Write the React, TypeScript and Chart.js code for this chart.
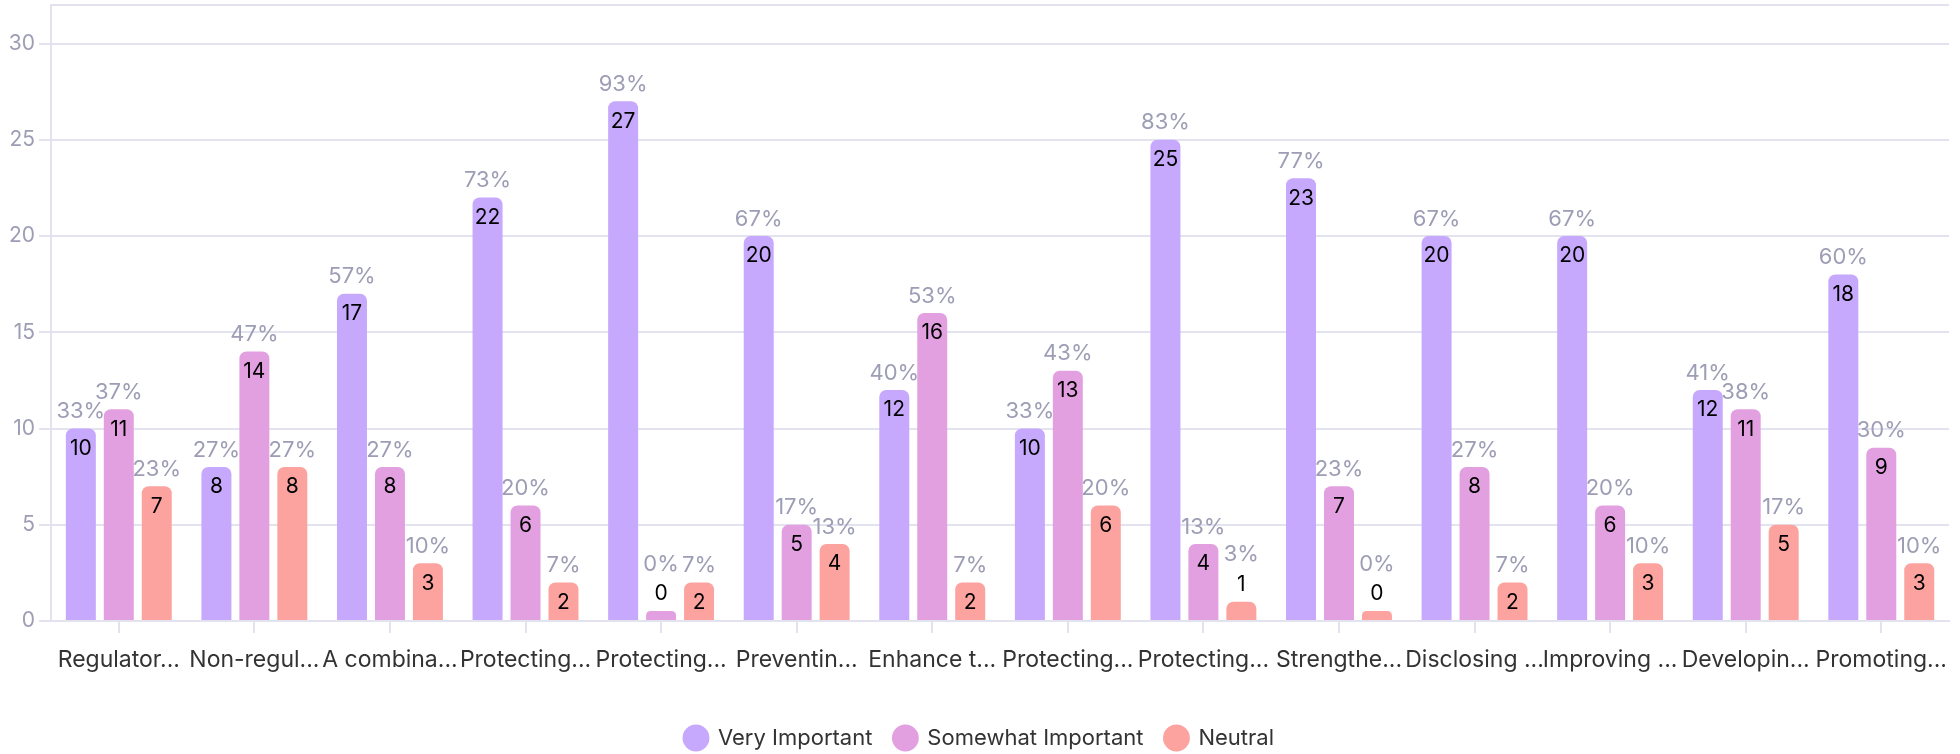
import React, { useEffect, useRef } from "react";
import { Chart, registerables } from "chart.js";

Chart.register(...registerables);

const CATEGORIES = [
  "Regulator...", "Non-regul...", "A combina...", "Protecting...", "Protecting...",
  "Preventin...", "Enhance t...", "Protecting...", "Protecting...", "Strengthe...",
  "Disclosing ...", "Improving ...", "Developin...", "Promoting...",
];

const VERY_IMPORTANT = [10, 8, 17, 22, 27, 20, 12, 10, 25, 23, 20, 20, 12, 18];
const SOMEWHAT_IMPORTANT = [11, 14, 8, 6, 0, 5, 16, 13, 4, 7, 8, 6, 11, 9];
const NEUTRAL = [7, 8, 3, 2, 2, 4, 2, 6, 1, 0, 2, 3, 5, 3];

const PCT_VERY = [33, 27, 57, 73, 93, 67, 40, 33, 83, 77, 67, 67, 41, 60];
const PCT_SOMEWHAT = [37, 47, 27, 20, 0, 17, 53, 43, 13, 23, 27, 20, 38, 30];
const PCT_NEUTRAL = [23, 27, 10, 7, 7, 13, 7, 20, 3, 0, 7, 10, 17, 10];

const Y_TICKS = [0, 5, 10, 15, 20, 25, 30, 32];

const SERIES_NAMES = ["Very Important", "Somewhat Important", "Neutral"];
const COLORS = ["#c6a8fd", "#e3a0e1", "#fca39f"];
const PCTS = [PCT_VERY, PCT_SOMEWHAT, PCT_NEUTRAL];

const GRID = "#e3e3ef";
const FONT = "Inter, 'Noto Sans', sans-serif";

const labelPlugin = {
  id: "valueLabels",
  afterDatasetsDraw(chart: any) {
    const ctx = chart.ctx;
    ctx.save();
    ctx.textAlign = "center";
    ctx.textBaseline = "middle";
    chart.data.datasets.forEach((ds: any, di: number) => {
      const meta = chart.getDatasetMeta(di);
      meta.data.forEach((bar: any, i: number) => {
        const v = ds.data[i];
        const p = PCTS[di][i];
        const top = bar.y;
        const h = bar.base - bar.y;
        let numY: number, pctY: number;
        if (h >= 30) {
          numY = top + 20;
          pctY = top - 17;
        } else {
          numY = top - 17;
          pctY = top - 47;
        }
        ctx.font = `400 21px ${FONT}`;
        ctx.fillStyle = "#000000";
        ctx.fillText(String(v), bar.x, numY);
        ctx.font = `400 22px ${FONT}`;
        ctx.fillStyle = "#9d9db5";
        ctx.fillText(p + "%", bar.x, pctY);
      });
    });
    ctx.restore();
  },
};

export default function App() {
  const ref = useRef<HTMLCanvasElement>(null);
  useEffect(() => {
    if (!ref.current) return;
    const data = [VERY_IMPORTANT, SOMEWHAT_IMPORTANT, NEUTRAL];
    const chart = new Chart(ref.current, {
      type: "bar",
      data: {
        labels: CATEGORIES,
        datasets: data.map((d, i) => ({
          label: SERIES_NAMES[i],
          data: d,
          backgroundColor: COLORS[i],
          borderWidth: 0,
          borderRadius: { topLeft: 7, topRight: 7, bottomLeft: 0, bottomRight: 0 },
          borderSkipped: "bottom",
          categoryPercentage: 0.84,
          barPercentage: 0.79,
          minBarLength: 10,
        })),
      },
      options: {
        responsive: false,
        animation: false,
        layout: { padding: { top: 5, right: 1, bottom: -5, left: 0 } },
        plugins: {
          tooltip: { enabled: false },
          legend: {
            position: "bottom",
            labels: {
              usePointStyle: true,
              pointStyle: "circle",
              boxWidth: 22,
              boxHeight: 19,
              padding: 22,
              color: "#333333",
              font: { family: FONT, size: 22 },
            },
          },
        },
        scales: {
          x: {
            afterFit: (s: any) => {
              s.height = 84;
            },
            grid: {
              display: true,
              drawOnChartArea: false,
              drawTicks: true,
              offset: false,
              tickLength: 12,
              color: GRID,
              lineWidth: 2,
            },
            border: { display: true, color: GRID, width: 2 },
            ticks: {
              color: "#333333",
              font: { family: FONT, size: 23 },
              padding: 13,
              maxRotation: 0,
              autoSkip: false,
            },
          },
          y: {
            min: 0,
            max: 32,
            afterBuildTicks: (s: any) => {
              s.ticks = Y_TICKS.map((v) => ({ value: v }));
            },
            afterFit: (s: any) => {
              s.width = 51;
              s.paddingTop = 0;
            },
            grid: {
              color: GRID,
              lineWidth: 2,
              tickLength: 12,
              tickColor: (c: any) => (c.tick && c.tick.value === 32 ? "rgba(0,0,0,0)" : GRID),
            },
            border: { display: true, color: GRID, width: 2 },
            ticks: {
              color: "#9d9db5",
              font: { family: FONT, size: 21 },
              padding: 4,
              callback: (v: any) => (Number(v) % 5 === 0 ? String(v) : ""),
            },
          },
        },
      },
      plugins: [labelPlugin],
    });
    return () => chart.destroy();
  }, []);
  return (
    <div style={{ position: "absolute", left: 0, top: 0, width: 1960, height: 754, background: "#fff" }}>
      <canvas ref={ref} width={1960} height={754} style={{ display: "block" }} />
    </div>
  );
}
